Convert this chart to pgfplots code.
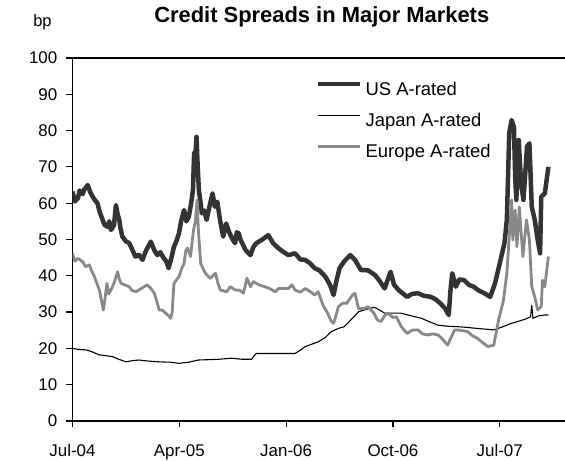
\documentclass[border=0pt]{standalone}
\usepackage{fontspec}
\setmainfont{Liberation Sans}
\usepackage{pgfplots}
\pgfplotsset{compat=1.18}

\definecolor{usgray}{HTML}{333333}
\definecolor{eugray}{HTML}{888888}

% x = months since Jul-04
\pgfplotstableread{
x y
0 63.2
0.2 60.5
0.45 61.3
0.6 63.5
0.86 62.5
1.0 63.8
1.28 65
1.5 63
1.7 61.8
1.9 60.8
2.1 60
2.3 57.5
2.54 55.4
2.7 54
2.96 53.5
3.1 55
3.24 52.6
3.5 54
3.66 59.5
3.8 57
3.94 55.4
4.05 53
4.2 50.8
4.5 49.5
4.78 49
5.0 47.5
5.3 45.3
5.6 45.8
5.9 44.4
6.2 47
6.6 49.4
6.9 47
7.15 45.7
7.4 46.5
7.7 44.8
7.9 44
8.1 42.1
8.3 44.5
8.55 48
8.75 49.5
8.97 51.7
9.15 55
9.4 58.1
9.6 55
9.8 56.3
10.0 60
10.15 63.6
10.25 74
10.35 73
10.45 78.3
10.55 70
10.65 63.6
10.8 60
10.9 57.2
11.1 58
11.3 55.4
11.5 58.5
11.8 62.7
12.0 59
12.2 60.4
12.45 55
12.7 50.8
12.95 54.4
13.2 52
13.5 50
13.7 49
13.85 52
14.0 51.7
14.15 50
14.3 49
14.6 47
15.0 45.7
15.25 48
15.5 49
16.0 50
16.5 51.2
16.9 49
17.35 47.6
17.8 46.5
18.2 45.7
18.75 46.2
19.2 44.5
19.6 44.4
20.0 43.5
20.4 42.1
20.8 41.5
21.3 39.8
21.7 37.5
22.0 34.7
22.2 38
22.5 42.1
22.9 44
23.4 45.7
23.8 44.4
24.3 41.6
24.9 41.5
25.5 40.2
25.9 38.5
26.3 36.5
26.8 41.1
27.1 37.5
27.5 36
28.2 34.2
28.6 35
29.1 35.2
29.6 34.5
30.2 34.2
30.6 33.5
31.0 32.4
31.4 31
31.7 29.2
31.85 36
32.0 40.7
32.3 37
32.6 39
33.0 38.8
33.4 37.5
33.8 37
34.2 36
34.7 35.2
35.2 34.2
35.6 37.9
36.0 43.4
36.4 49
36.6 55.4
36.8 79.3
37.0 82.9
37.2 81
37.3 67.3
37.4 60.9
37.6 77.4
37.8 65.5
38.0 60.9
38.3 75.6
38.5 76.5
38.7 59
38.95 55.4
39.2 49.9
39.4 46.2
39.5 61.8
39.8 62.7
40.1 70
}\us

\pgfplotstableread{
x y
0 20
0.5 19.7
1.15 19.6
1.7 19
2.26 18.2
2.8 18
3.4 17.7
3.9 17
4.5 16.3
5.0 16.6
5.6 16.8
6.4 16.5
7.3 16.3
8.2 16.2
9 15.9
9.8 16.2
10.6 16.8
11.5 16.9
12.3 17
13.4 17.3
14.3 17
15.1 17
15.3 18
15.5 18.6
16.2 18.6
17.35 18.6
18.75 18.6
19.2 19.5
19.6 20.5
20.2 21.2
20.7 21.8
21.3 23
21.8 24.6
22.4 25.5
22.9 26
23.5 28
24.1 30.1
24.6 30.6
25.0 31
25.45 31.3
25.9 30.5
26.3 29.7
27.0 29.7
27.7 29.7
28.5 29
29.4 28.3
30.1 27.3
30.8 26.4
31.6 26.1
32.4 26
33.2 25.8
34.1 25.5
35.5 25.1
36.3 26
36.9 26.8
37.5 27.4
38.1 28
38.6 28.7
38.7 32
38.8 28.3
39.3 29
39.8 29.2
40.1 29.2
}\japan

\pgfplotstableread{
x y
0 46.2
0.2 44
0.45 44.8
0.86 43.9
1.1 42.5
1.42 43
1.6 41.5
1.84 39.8
2.1 37.5
2.26 36.1
2.45 33
2.6 30.6
2.75 34
2.9 37.9
3.05 35
3.24 36.1
3.5 38
3.8 41.1
3.95 39
4.1 37.9
4.4 37.5
4.78 37
5.0 36
5.34 35.6
5.8 36.5
6.3 37.5
6.6 36.5
6.9 35.2
7.1 33
7.3 30.6
7.6 30.5
7.85 29.7
8.1 29
8.27 28.3
8.4 30
8.55 37.9
8.97 39.8
9.2 42
9.4 43.4
9.55 47
9.7 47.6
9.95 45.3
10.1 50
10.2 52.6
10.35 55
10.5 60.9
10.6 53
10.8 43.4
11.0 42
11.2 40.7
11.6 39.3
12.05 40.7
12.25 38
12.45 36.1
13.0 35.6
13.3 37
13.7 36.1
14.1 36
14.4 35.2
14.7 39.3
15.0 37
15.25 38.4
15.7 37.5
16.2 37
16.6 36.5
17.1 35.6
17.35 36.5
17.8 36.5
18.2 36.5
18.5 37.5
18.75 36.1
19.2 35.5
19.6 36.5
20.1 35.5
20.4 34.7
20.7 35.6
21.1 32
21.5 29.7
21.8 27.5
22.0 26.9
22.2 29
22.4 31.5
22.8 32.5
23.1 32.4
23.6 34.7
23.8 35.2
24.1 31
24.6 31
24.9 31.5
25.4 29.7
25.7 27.8
26.0 27.4
26.3 29
26.6 29.7
27.0 28.5
27.3 28.7
27.7 26
28.2 24.1
28.6 25
29.1 25.1
29.5 24
29.9 23.7
30.4 24
30.8 23.7
31.2 22.5
31.6 20.9
31.9 23
32.2 25.1
32.7 25
33.3 24.6
33.7 23.5
34.1 22.8
34.6 21.5
35.0 20.5
35.5 20.9
35.9 27.8
36.3 33
36.6 40.7
37.0 60.9
37.1 49.9
37.3 58.1
37.45 48
37.65 59
37.95 45.3
38.25 55.4
38.5 49.9
38.7 37
38.95 34.2
39.2 30.6
39.5 31.5
39.6 38.8
39.8 37
40.1 45.3
}\europe

\begin{document}
\begin{tikzpicture}
\useasboundingbox (-72.5bp,-40bp) rectangle (492.5bp,421bp);
\begin{axis}[name=ax, at={(0,0)}, anchor=south west,
  scale only axis, width=492.5bp, height=363bp,
  xmin=0, xmax=41.5, ymin=0, ymax=100,
  axis x line*=bottom, axis y line*=left,
  axis line style={black, line width=1.3bp},
  tick align=outside, major tick length=6bp,
  tick style={black, line width=1.2bp},
  xtick={0,9,18,27,36},
  xticklabels={Jul-04, Apr-05, Jan-06, Oct-06, Jul-07},
  ytick={0,10,...,100},
  extra y ticks={100}, extra y tick labels={},
  extra y tick style={grid=major, major grid style={black, line width=1.3bp}},
  ticklabel style={font=\fontsize{17}{20}\selectfont},
  /pgf/number format/assume math mode=true,
  yticklabel style={anchor=east, inner sep=0pt, xshift=-9bp},
  xticklabel style={anchor=north, inner sep=0pt, yshift=-17bp},
  legend cell align=left,
  legend image code/.code={\draw[#1] (0bp,6bp) -- (42bp,6bp);},
  legend style={draw=none, fill=none, at={(rel axis cs:0.4944,0.9366)},
    anchor=north west, inner sep=0pt, row sep=13bp, column sep=3bp,
    font=\fontsize{18.5}{22}\selectfont,
    nodes={inner sep=0pt, text height=14bp, text depth=4bp}},
]
\addplot[usgray, line width=4.5bp, line join=round] table {\us};
\addlegendentry{US A-rated}
\addplot[black, line width=1.1bp] table {\japan};
\addlegendentry{Japan A-rated}
\addplot[eugray, line width=2.8bp, line join=round] table {\europe};
\addlegendentry{Europe A-rated}
\end{axis}
\node[anchor=base, font=\bfseries\fontsize{22}{26}\selectfont]
  at ([xshift=3bp, yshift=35.3bp]ax.north) {Credit Spreads in Major Markets};
\node[anchor=base, font=\fontsize{16.5}{20}\selectfont]
  at ([xshift=-30bp, yshift=31.5bp]ax.north west) {bp};
\end{tikzpicture}
\end{document}
